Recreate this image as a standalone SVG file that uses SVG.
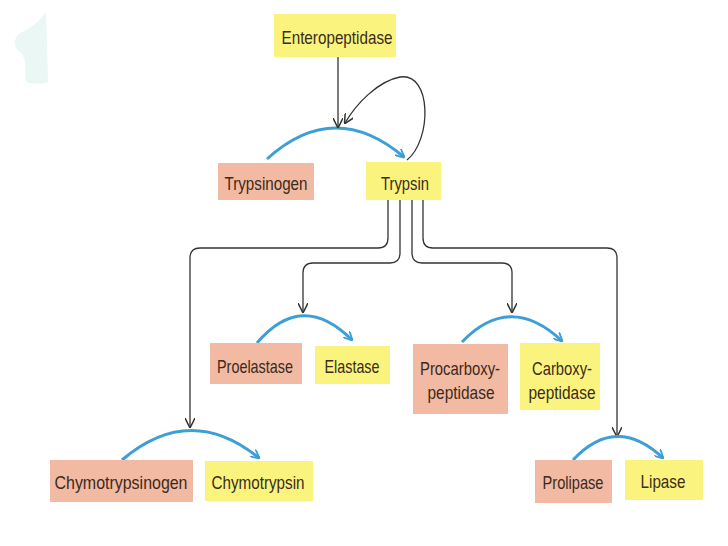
<svg xmlns="http://www.w3.org/2000/svg" width="728" height="546" viewBox="0 0 728 546">
<defs>
<style>
.pro{fill:#f2b9a3}
.act{fill:#faf47e}
.t{font-family:"Liberation Sans",Arial,sans-serif;font-size:19px;fill:#3b2b1a;text-anchor:middle;dominant-baseline:central}
.blue{fill:none;stroke:#3d9fd6;stroke-width:3}
.blk{fill:none;stroke:#333;stroke-width:1.3}
</style>
<marker id="ab" viewBox="0 0 10 10" refX="9" refY="5" markerWidth="9" markerHeight="9" orient="auto" markerUnits="userSpaceOnUse">
<path d="M0,0 L10,5 L0,10" fill="none" stroke="#3d9fd6" stroke-width="2"/>
</marker>
<marker id="ak" viewBox="0 0 10 10" refX="9" refY="5" markerWidth="10" markerHeight="10" orient="auto" markerUnits="userSpaceOnUse">
<path d="M0,0 L10,5 L0,10" fill="none" stroke="#333" stroke-width="1.5"/>
</marker>
</defs>
<rect width="728" height="546" fill="#ffffff"/>
<path d="M46,12 C40,20 32,28 22,32 C14,36 12,46 20,52 C28,60 24,70 26,82 C34,84 42,84 48,82 Z" fill="#eaf7f5"/>
<g id="connectors">
<path class="blue" d="M267,159 Q334,98 404,157" marker-end="url(#ab)"/>
<path class="blk" d="M338,57 L338,127" marker-end="url(#ak)"/>
<path class="blk" d="M407,160 C432,140 432,72 400,77 C378,81 356,104 345,123" marker-end="url(#ak)"/>
<path class="blk" d="M388,200 L388,238 Q388,248 378,248 L200,248 Q190,248 190,258 L190,427" marker-end="url(#ak)"/>
<path class="blk" d="M400,200 L400,253 Q400,263 390,263 L313,263 Q303,263 303,273 L303,312" marker-end="url(#ak)"/>
<path class="blk" d="M412,200 L412,253 Q412,263 422,263 L502,263 Q512,263 512,273 L512,312" marker-end="url(#ak)"/>
<path class="blk" d="M423,200 L423,238 Q423,248 433,248 L607,248 Q617,248 617,258 L617,436" marker-end="url(#ak)"/>
<path class="blue" d="M257,343 Q302,290 352,340" marker-end="url(#ab)"/>
<path class="blue" d="M462,342 Q510,292 562,341" marker-end="url(#ab)"/>
<path class="blue" d="M122,460 Q190,402 259,458" marker-end="url(#ab)"/>
<path class="blue" d="M573,460 Q616,414 663,458" marker-end="url(#ab)"/>
</g>
<g id="enteropeptidase"><rect class="act" x="274" y="14" width="122" height="43"/><text class="t" x="337" y="37" textLength="111" lengthAdjust="spacingAndGlyphs">Enteropeptidase</text></g>
<g id="trypsinogen"><rect class="pro" x="218" y="163" width="96" height="37"/><text class="t" x="266" y="183" textLength="83" lengthAdjust="spacingAndGlyphs">Trypsinogen</text></g>
<g id="trypsin"><rect class="act" x="366" y="162" width="75" height="38"/><text class="t" x="405" y="183" textLength="48" lengthAdjust="spacingAndGlyphs">Trypsin</text></g>
<g id="proelastase"><rect class="pro" x="210" y="343" width="92" height="41"/><text class="t" x="255" y="366" textLength="76" lengthAdjust="spacingAndGlyphs">Proelastase</text></g>
<g id="elastase"><rect class="act" x="315" y="346" width="75" height="38"/><text class="t" x="352" y="366" textLength="55" lengthAdjust="spacingAndGlyphs">Elastase</text></g>
<g id="procarboxypeptidase"><rect class="pro" x="413" y="344" width="95" height="70"/><text class="t" x="460" y="368" textLength="80" lengthAdjust="spacingAndGlyphs">Procarboxy-</text><text class="t" x="461" y="392" textLength="67" lengthAdjust="spacingAndGlyphs">peptidase</text></g>
<g id="carboxypeptidase"><rect class="act" x="520" y="343" width="80" height="67"/><text class="t" x="562" y="368" textLength="60" lengthAdjust="spacingAndGlyphs">Carboxy-</text><text class="t" x="562" y="392" textLength="67" lengthAdjust="spacingAndGlyphs">peptidase</text></g>
<g id="chymotrypsinogen"><rect class="pro" x="50" y="460" width="143" height="42"/><text class="t" x="121" y="482" textLength="133" lengthAdjust="spacingAndGlyphs">Chymotrypsinogen</text></g>
<g id="chymotrypsin"><rect class="act" x="205" y="461" width="108" height="40"/><text class="t" x="258" y="482" textLength="93" lengthAdjust="spacingAndGlyphs">Chymotrypsin</text></g>
<g id="prolipase"><rect class="pro" x="535" y="460" width="77" height="43"/><text class="t" x="573" y="482" textLength="61" lengthAdjust="spacingAndGlyphs">Prolipase</text></g>
<g id="lipase"><rect class="act" x="625" y="460" width="78" height="40"/><text class="t" x="663" y="481" textLength="45" lengthAdjust="spacingAndGlyphs">Lipase</text></g>
</svg>
